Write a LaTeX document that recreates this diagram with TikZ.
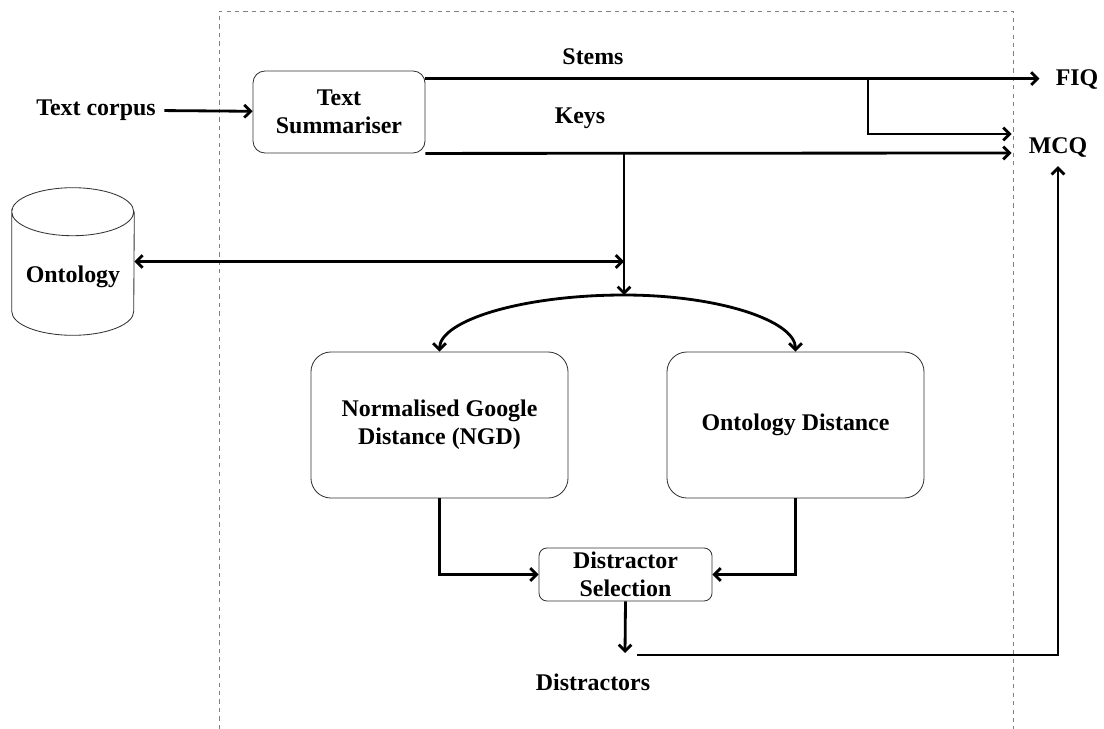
\documentclass[tikz,border=0pt]{standalone}
\usepackage{fontspec}
\setmainfont{Liberation Serif}
\usetikzlibrary{positioning, arrows.meta, shapes.geometric, calc}

\begin{document}
\begin{tikzpicture}[
        x=0.025cm, y=-0.025cm, >={Straight Barb[length=4.5pt,width=9pt]},
        every node/.style={font=\fontsize{17}{20}\selectfont\bfseries},
        block/.style={rectangle, draw=black!80, line width=0.6pt, align=center},
        summbox/.style={block, rounded corners=0.3cm, minimum width=4.3cm, minimum height=2.05cm},
        distbox/.style={block, rounded corners=0.5cm, minimum width=6.425cm, minimum height=3.65cm},
        selbox/.style={block, rounded corners=0.2cm, minimum width=4.325cm, minimum height=1.325cm, inner sep=1pt},
        store/.style={rectangle, inner sep=0pt, minimum width=3.05cm, minimum height=3.675cm},
        storeline/.style={draw=black!80, line width=0.6pt},
        txt/.style={inner sep=0pt},
        arrow/.style={->, line width=2pt},
        frame/.style={draw=gray, dashed, line width=0.6pt},
    ]
    \useasboundingbox (0,0) rectangle (1104,729);
    % dashed frame, open at the bottom
    \draw[frame] (219,729) -- (219,11) -- (1013,11) -- (1013,729);

    \node[txt] (corpus) at (96,110) {Text corpus};
    \node[summbox] (summ) at (339,112) {Text\\Summariser};
    \node[store] (onto) at (73,261.5) {\raisebox{-0.53cm}[0pt][0pt]{Ontology}};
    \node[distbox] (ngd) at (439.5,425) {Normalised Google\\Distance (NGD)};
    \node[distbox] (od) at (795.5,425) {Ontology Distance};
    \node[selbox] (sel) at (625.5,574.5) {Distractor\\Selection};
    \node[txt] (fiq) at (1077,80) {FIQ};
    \node[txt] (mcq) at (1058,148) {MCQ};
    \node[txt] (distr) at (593,682) {Distractors};
    \node[txt] (stems) at (593,57) {Stems};
    \node[txt] (keys) at (580,118) {Keys};

    % cylinder round the ontology node
    \draw[storeline] ([yshift=-0.6cm]onto.north west)
        arc[start angle=180, end angle=-180, x radius=1.525cm, y radius=0.6cm]
        -- ([yshift=0.6cm]onto.south west)
        arc[start angle=180, end angle=360, x radius=1.525cm, y radius=0.6cm]
        -- ([yshift=-0.6cm]onto.north east);

    \coordinate (stemtap) at (868,79);
    \coordinate (keytap) at (624,153);
    \coordinate (split) at (624,295);
    \coordinate (selout) at (625,653);
    \coordinate (dline) at (637,655);

    \draw[arrow, shorten <=6pt] (corpus) -- (summ);
    \draw[arrow, shorten >=0.4cm] ([yshift=-0.2cm]summ.north east) -- ([yshift=-0.2cm]summ.north east -| fiq.west);
    \draw[arrow] (stemtap) |- ([yshift=0.35cm, xshift=-0.425cm]mcq.west);
    \draw[arrow] (summ.south east) -- ([yshift=-0.125cm, xshift=-0.425cm]mcq.west);
    \draw[arrow] (keytap) -- (split);
    \draw[arrow, <->] (onto.east) -- (keytap |- onto.east);
    \draw[arrow] (split) .. controls +(-102,0) and +(0,-31) .. (ngd.north);
    \draw[arrow] (split) .. controls +(94,0) and +(0,-31) .. (od.north);
    \draw[arrow] (ngd.south) |- (sel.west);
    \draw[arrow] (od.south) |- (sel.east);
    \draw[arrow] (sel.south) -- (selout);
    \draw[arrow, shorten >=0.2cm] (dline) -| (mcq.south);
\end{tikzpicture}
\end{document}
